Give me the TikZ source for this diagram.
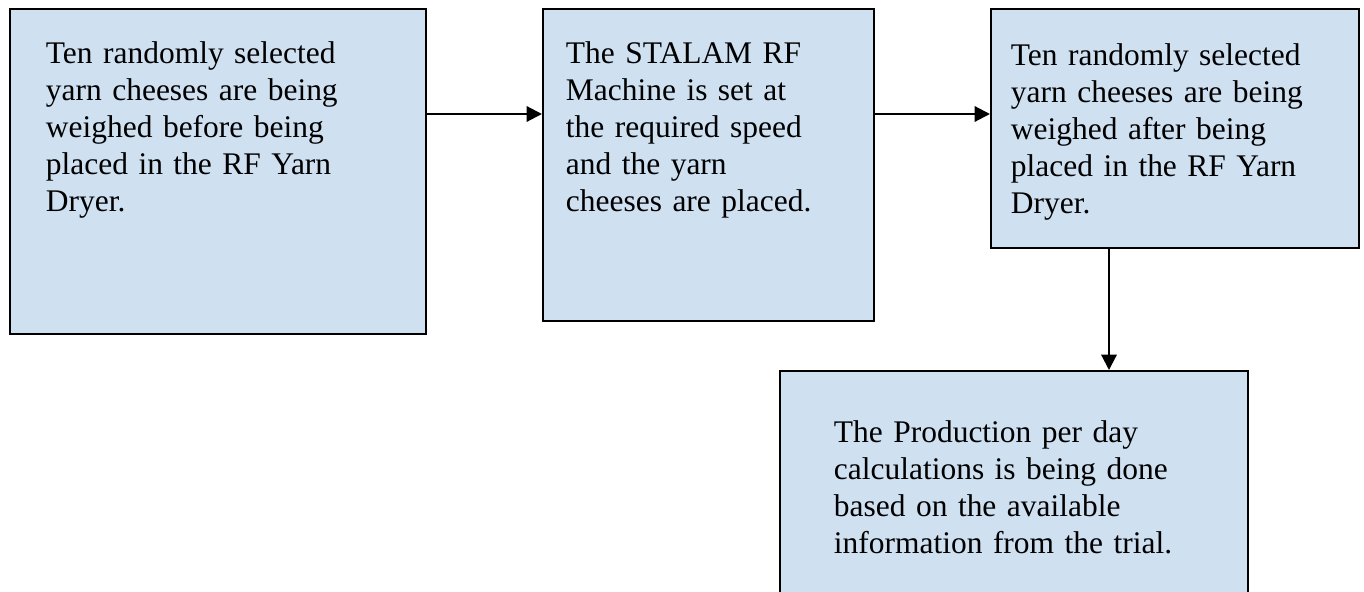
\documentclass[tikz,border=0pt]{standalone}
\usepackage{fontspec}
\setmainfont{Liberation Serif}
\usetikzlibrary{arrows.meta}
\definecolor{boxblue}{RGB}{207, 224, 241}

\begin{document}
\begin{tikzpicture}[
        x=0.75pt, y=0.75pt,
        stepbox/.style={rectangle, draw=black, fill=boxblue, line width=1.4pt, anchor=north west, align=left, inner ysep=0pt, font=\fontsize{23.6}{27.75}\selectfont},
        flow/.style={-{Triangle[length=11.5pt, width=11.5pt]}, line width=1.6pt, draw=black}
    ]
        \useasboundingbox (0,0) rectangle (1364,-592);
        \clip (0,0) rectangle (1364,-592);

        % Boxes
        \node[stepbox, inner xsep=27pt, text width=258pt, text height=41.25pt, text depth=202.5pt] (weighbefore) at (9,-8) {Ten randomly selected\\yarn cheeses are being\\weighed before being\\placed in the RF Yarn\\Dryer.};
        \node[stepbox, inner xsep=17.25pt, text width=213.75pt, text height=41.25pt, text depth=192.75pt] (setspeed) at (542,-8) {The STALAM RF\\Machine is set at\\the required speed\\and the yarn\\cheeses are placed.};
        \node[stepbox, inner xsep=15pt, text width=246pt, text height=42.75pt, text depth=136.5pt] (weighafter) at (990,-8) {Ten randomly selected\\yarn cheeses are being\\weighed after being\\placed in the RF Yarn\\Dryer.};
        \node[stepbox, inner xsep=40.5pt, text width=270pt, text height=54pt, text depth=122.25pt] (perday) at (779,-370) {The Production per day\\calculations is being done\\based on the available\\information from the trial.};

        % Arrows
        \coordinate (flowrow) at (0,-114);
        \coordinate (dropcol) at (1109,0);
        \draw[flow] (weighbefore.east |- flowrow) -- (setspeed.west |- flowrow);
        \draw[flow] (setspeed.east |- flowrow) -- (weighafter.west |- flowrow);
        \draw[flow] (weighafter.south -| dropcol) -- (perday.north -| dropcol);

    \end{tikzpicture}
\end{document}
